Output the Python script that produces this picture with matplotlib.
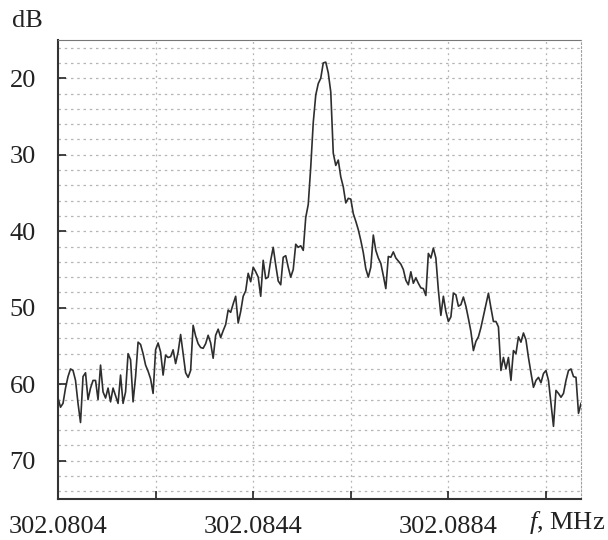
import numpy as np
import matplotlib
matplotlib.use('Agg')
import matplotlib.pyplot as plt

plt.rcParams['font.family'] = ['Liberation Serif', 'DejaVu Serif']
plt.rcParams['mathtext.fontset'] = 'custom'
plt.rcParams['mathtext.rm'] = 'Liberation Serif'
plt.rcParams['mathtext.it'] = 'Liberation Serif:italic'

# sweep: 210 points from start to stop frequency (MHz)
f_start = 302.0804
f_stop = 302.09112
n_points = 210

# measured level, dB (axis is drawn inverted: 20 at top)
level_db = [
    61.8, 63.0, 62.5, 60.5, 59.0, 58.0, 58.2, 59.5, 62.5, 65.0,
    59.0, 58.5, 62.0, 60.5, 59.5, 59.5, 62.0, 57.5, 61.0, 61.8,
    60.5, 62.3, 60.5, 61.5, 62.5, 58.8, 62.5, 61.0, 56.0, 56.8,
    62.3, 59.0, 54.5, 54.8, 56.0, 57.5, 58.3, 59.3, 61.2, 55.5,
    54.6, 55.8, 58.8, 56.2, 56.5, 56.4, 55.5, 57.3, 55.8, 53.5,
    56.0, 58.5, 59.1, 58.2, 52.3, 53.7, 54.7, 55.2, 55.3, 54.7,
    53.6, 54.6, 56.6, 53.6, 52.8, 53.9, 53.0, 52.2, 50.3, 50.6,
    49.5, 48.5, 52.0, 50.5, 48.5, 47.8, 45.5, 46.6, 44.7, 45.3,
    46.0, 48.5, 43.8, 46.2, 46.0, 43.8, 42.1, 44.4, 46.5, 47.0,
    43.4, 43.2, 44.7, 46.0, 45.0, 41.7, 42.1, 41.9, 42.5, 38.2,
    36.5, 31.6, 25.8, 22.2, 20.7, 20.0, 18.0, 17.9, 19.3, 21.8,
    29.8, 31.4, 30.7, 32.9, 34.2, 36.3, 35.7, 35.8, 37.7, 38.7,
    39.8, 41.2, 42.8, 44.9, 46.0, 44.7, 40.5, 42.5, 43.5, 44.2,
    45.8, 47.5, 43.3, 43.4, 42.7, 43.5, 43.9, 44.3, 45.0, 46.4,
    47.0, 45.3, 46.8, 46.1, 46.8, 47.4, 47.5, 48.4, 42.9, 43.5,
    42.2, 43.5, 47.7, 51.0, 48.5, 50.5, 51.8, 51.2, 48.1, 48.3,
    49.8, 49.6, 48.6, 49.8, 51.4, 53.1, 55.6, 54.4, 53.8, 52.6,
    51.1, 49.6, 48.1, 50.0, 51.8, 51.8, 52.5, 58.2, 56.5, 58.0,
    56.5, 59.5, 55.6, 56.0, 53.8, 54.5, 53.3, 54.2, 56.5, 58.5,
    60.4, 59.5, 59.1, 59.8, 58.6, 58.2, 59.5, 62.5, 65.5, 60.8,
    61.2, 61.7, 61.2, 59.5, 58.2, 58.0, 59.0, 59.1, 63.8, 62.5,
]

x_ticks = [302.0804, 302.0824, 302.0844, 302.0864, 302.0884, 302.0904]
x_ticklabels = ['302.0804', '', '302.0844', '', '302.0884', '']
y_ticks = [20, 30, 40, 50, 60, 70]

freq = np.linspace(f_start, f_stop, n_points)

fig = plt.figure(figsize=(6.08, 5.4), dpi=100)
ax = fig.add_axes([0.0954, 0.0759, 0.8602, 0.8501])

# faint dotted grid
for yg in np.arange(16, 75, 2):
    ax.axhline(yg, color='#b5b5b5', lw=0.9, ls=(0, (2, 3)), zorder=1)
for xg in x_ticks[1:]:
    ax.axvline(xg, color='#b5b5b5', lw=0.9, ls=(0, (1.5, 3)), zorder=1)

ax.plot(freq, level_db, color='#2e2e2e', lw=1.2, zorder=3)

ax.set_xlim(302.0804, 302.09112)
ax.set_ylim(75, 15)
ax.set_xticks(x_ticks)
ax.set_xticklabels(x_ticklabels)
ax.set_yticks(y_ticks)
ax.tick_params(direction='in', length=6, width=1.2, labelsize=19, colors='#222222')
ax.tick_params(axis='x', pad=12)
ax.tick_params(axis='y', pad=16)

for s in ['left', 'bottom']:
    ax.spines[s].set_color('#333333')
    ax.spines[s].set_linewidth(1.5)
ax.spines['top'].set_color('#777777')
ax.spines['top'].set_linestyle((0, (2, 1)))
ax.spines['right'].set_color('#a0a0a0')
ax.spines['right'].set_linestyle((0, (1.5, 2)))

fig.text(0.02, 0.962, 'dB', fontsize=19, color='#222222', va='center', ha='left')
fig.text(0.995, 0.033, '$f$, MHz', fontsize=19, color='#222222', va='center', ha='right')

fig.savefig('out.png', dpi=100, facecolor='white')
